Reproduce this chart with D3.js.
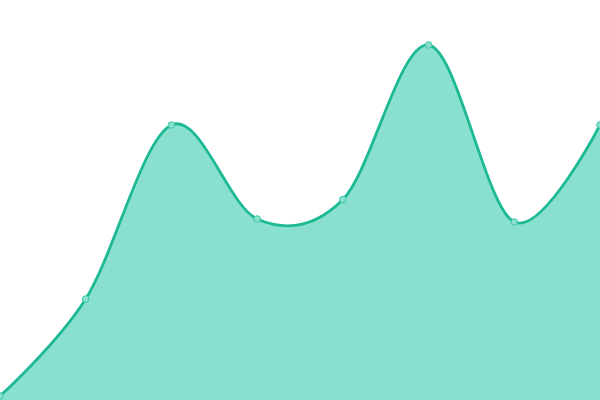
<!DOCTYPE html>
<html lang="en">
<head>
    <meta charset="UTF-8">
    <title>Area</title>
    <script src="https://d3js.org/d3.v7.min.js"></script>
    <style>
        html, body { margin: 0; padding: 0; background: #fff; }
        svg { display: block; }
    </style>
</head>
<body>
    <svg id="chart"></svg>
    <script>
        const width = 600;
        const height = 400;

        // data
        const categories = [0, 1, 2, 3, 4, 5, 6, 7];
        const values = [1, 25.25, 68.75, 45.25, 50.1, 88.75, 44.5, 68.75];

        const svg = d3.select("#chart").attr("width", width).attr("height", height);

        const x = d3.scalePoint().domain(categories).range([0, width]);
        const y = d3.scaleLinear().domain([0, 100]).range([height, 0]);

        const curve = d3.curveCardinal.tension(0);

        const area = d3.area()
            .x((d, i) => x(categories[i]))
            .y0(height)
            .y1(d => y(d))
            .curve(curve);

        const line = d3.line()
            .x((d, i) => x(categories[i]))
            .y(d => y(d))
            .curve(curve);

        svg.append("path")
            .datum(values)
            .attr("d", area)
            .attr("fill", "#8ae0cf");

        svg.append("path")
            .datum(values)
            .attr("d", line)
            .attr("fill", "none")
            .attr("stroke", "#1cb994")
            .attr("stroke-width", 2.8);

        svg.selectAll("circle.pt")
            .data(values)
            .join("circle")
            .attr("class", "pt")
            .attr("cx", (d, i) => x(categories[i]))
            .attr("cy", d => y(d))
            .attr("r", 3.3)
            .attr("fill", "#8ae0cf")
            .attr("stroke", "#3cc7a6")
            .attr("stroke-width", 1);
    </script>
</body>
</html>
